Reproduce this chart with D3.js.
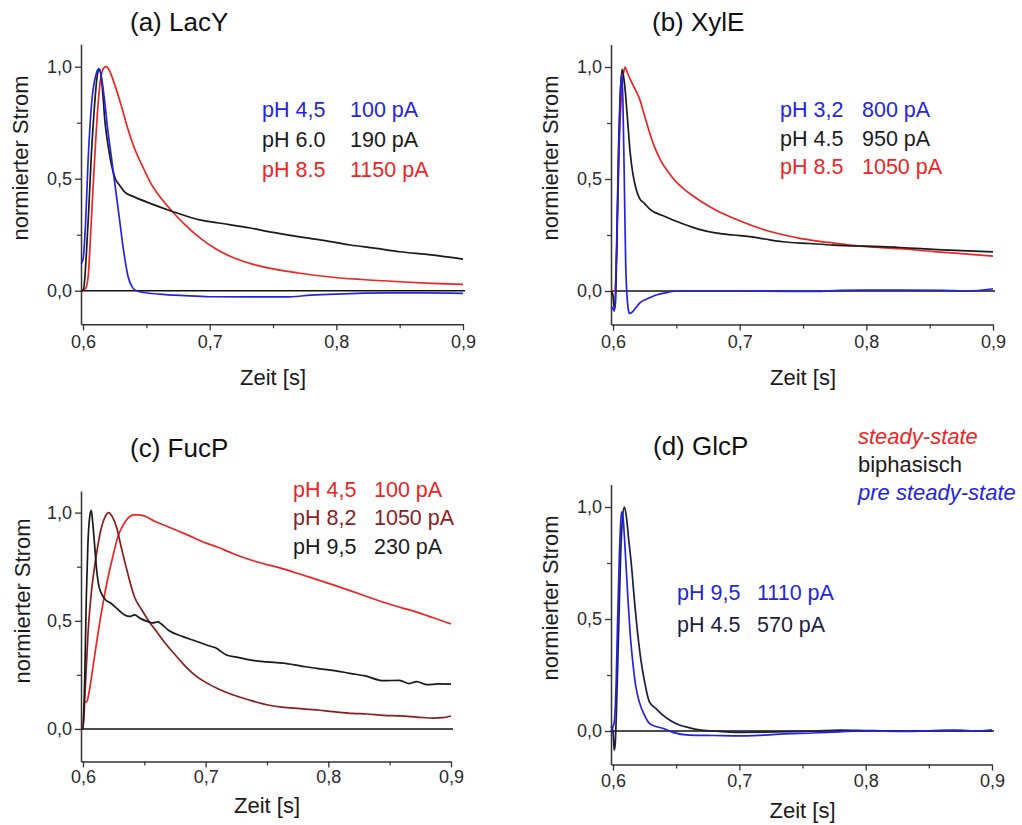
<!DOCTYPE html>
<html>
<head>
<meta charset="utf-8">
<script src="https://cdn.jsdelivr.net/npm/d3@7"></script>
<style>
  html, body { margin:0; padding:0; background:#fff; }
  svg text { font-family: "Liberation Sans", Arial, sans-serif; }
</style>
</head>
<body>
<svg id="chart" width="1022" height="825"></svg>
<script>
// ---------- DATA ----------
const panelTitles = ["(a) LacY", "(b) XylE", "(c) FucP", "(d) GlcP"];
const xTickValues = [0.6, 0.7, 0.8, 0.9];
const xTickLabels = ["0,6", "0,7", "0,8", "0,9"];
const xMinorTicks = [0.65, 0.75, 0.85];
const yTickValues = [0, 0.5, 1.0];
const yTickLabels = ["0,0", "0,5", "1,0"];
const yMinorTicks = [0.25, 0.75];
const xDomain = [0.5984, 0.9];
const yDomain = [-0.15, 1.1];
const xAxisTitle = "Zeit [s]";
const yAxisTitle = "normierter Strom";
const categoryLabels = ["steady-state", "biphasisch", "pre steady-state"];

// (a) LacY  [time s, normalized current]
const lacY_pH45 = [[0.5985,0.12],[0.6,0.14],[0.602,0.3],[0.604,0.58],[0.607,0.85],[0.6105,0.97],[0.6124,0.99],[0.614,0.97],[0.617,0.85],[0.6195,0.72],[0.6223,0.6],[0.626,0.44],[0.629,0.31],[0.632,0.18],[0.6357,0.06],[0.639,0.015],[0.642,0.0],[0.648,-0.008],[0.66,-0.015],[0.68,-0.022],[0.7,-0.027],[0.73,-0.028],[0.76,-0.028],[0.78,-0.02],[0.8,-0.015],[0.84,-0.01],[0.87,-0.01],[0.9,-0.012]];
const lacY_pH60 = [[0.5985,0.0],[0.6,0.0],[0.601,0.03],[0.6026,0.16],[0.6045,0.36],[0.6066,0.61],[0.609,0.82],[0.611,0.95],[0.6129,0.99],[0.615,0.92],[0.6173,0.755],[0.62,0.64],[0.6225,0.56],[0.6255,0.5],[0.629,0.47],[0.633,0.44],[0.64,0.42],[0.653,0.39],[0.67,0.355],[0.692,0.316],[0.71,0.3],[0.732,0.28],[0.75,0.26],[0.771,0.24],[0.79,0.225],[0.811,0.204],[0.83,0.19],[0.85,0.174],[0.875,0.16],[0.9,0.141]];
const lacY_pH85 = [[0.5985,0.0],[0.602,0.01],[0.604,0.06],[0.606,0.25],[0.608,0.47],[0.61,0.67],[0.612,0.84],[0.614,0.95],[0.6165,0.995],[0.6185,1.0],[0.621,0.98],[0.625,0.92],[0.63,0.83],[0.635,0.73],[0.64,0.645],[0.647,0.555],[0.653,0.485],[0.662,0.41],[0.671,0.35],[0.68,0.297],[0.692,0.237],[0.705,0.186],[0.718,0.149],[0.73,0.125],[0.745,0.103],[0.77,0.079],[0.797,0.06],[0.82,0.05],[0.85,0.04],[0.875,0.033],[0.9,0.028]];

// (b) XylE
const xylE_pH32 = [[0.5985,-0.07],[0.6,-0.08],[0.601,-0.09],[0.6015,-0.06],[0.602,0.0],[0.603,0.25],[0.6045,0.61],[0.6058,0.88],[0.6069,0.97],[0.6078,0.85],[0.609,0.46],[0.61,0.12],[0.6108,0.0],[0.612,-0.08],[0.6129,-0.1],[0.615,-0.095],[0.618,-0.075],[0.6208,-0.055],[0.627,-0.035],[0.634,-0.018],[0.642,-0.007],[0.651,0.0],[0.7,0.0],[0.74,-0.002],[0.76,-0.002],[0.78,0.003],[0.8,0.004],[0.83,0.004],[0.86,0.003],[0.88,0.0],[0.9,0.01]];
const xylE_pH45 = [[0.5985,0.0],[0.6,-0.02],[0.601,-0.08],[0.6018,-0.06],[0.603,0.2],[0.604,0.55],[0.6055,0.85],[0.6071,0.99],[0.609,0.93],[0.6116,0.755],[0.6135,0.62],[0.6155,0.53],[0.618,0.46],[0.6208,0.415],[0.625,0.39],[0.629,0.365],[0.64,0.335],[0.655,0.3],[0.668,0.275],[0.682,0.258],[0.695,0.25],[0.708,0.243],[0.72,0.232],[0.734,0.22],[0.755,0.212],[0.774,0.205],[0.8,0.2],[0.813,0.198],[0.833,0.192],[0.853,0.186],[0.875,0.18],[0.9,0.175]];
const xylE_pH85 = [[0.5985,0.0],[0.6015,0.0],[0.603,0.2],[0.605,0.67],[0.607,0.9],[0.6085,0.98],[0.6095,1.0],[0.611,0.98],[0.614,0.94],[0.6175,0.9],[0.6208,0.86],[0.625,0.78],[0.6287,0.71],[0.633,0.64],[0.6379,0.58],[0.644,0.528],[0.6497,0.488],[0.656,0.455],[0.663,0.425],[0.6687,0.403],[0.681,0.362],[0.6947,0.326],[0.708,0.296],[0.7213,0.27],[0.735,0.25],[0.7476,0.235],[0.76,0.224],[0.774,0.214],[0.787,0.205],[0.8,0.198],[0.8265,0.189],[0.853,0.176],[0.875,0.167],[0.9,0.156]];

// (c) FucP
const fucP_pH45 = [[0.5985,0.0],[0.6,0.01],[0.6008,0.1],[0.6014,0.125],[0.603,0.125],[0.605,0.17],[0.608,0.28],[0.6122,0.44],[0.616,0.57],[0.6204,0.7],[0.6245,0.8],[0.6285,0.89],[0.6325,0.94],[0.6367,0.975],[0.641,0.99],[0.6448,0.99],[0.65,0.985],[0.6584,0.96],[0.6693,0.935],[0.6856,0.896],[0.7,0.86],[0.71,0.84],[0.7225,0.81],[0.74,0.775],[0.7633,0.74],[0.78,0.71],[0.804,0.666],[0.825,0.625],[0.8448,0.586],[0.86,0.56],[0.872,0.54],[0.885,0.515],[0.9,0.485]];
const fucP_pH82 = [[0.5985,0.0],[0.6,0.0],[0.602,0.2],[0.6041,0.44],[0.607,0.64],[0.61,0.77],[0.6122,0.85],[0.615,0.93],[0.618,0.98],[0.621,1.0],[0.624,0.98],[0.6275,0.93],[0.6312,0.84],[0.636,0.73],[0.642,0.61],[0.648,0.55],[0.654,0.496],[0.66,0.45],[0.6666,0.4],[0.674,0.35],[0.6818,0.3],[0.69,0.255],[0.7008,0.213],[0.71,0.186],[0.7225,0.157],[0.735,0.135],[0.7497,0.112],[0.762,0.101],[0.777,0.094],[0.79,0.088],[0.804,0.08],[0.82,0.072],[0.8313,0.069],[0.845,0.063],[0.8584,0.06],[0.872,0.055],[0.8856,0.05],[0.893,0.052],[0.9,0.06]];
const fucP_pH95 = [[0.5985,0.0],[0.6,0.0],[0.6015,0.25],[0.6027,0.6],[0.604,0.85],[0.6055,0.98],[0.6068,1.01],[0.608,0.95],[0.6095,0.85],[0.6109,0.75],[0.613,0.66],[0.615,0.627],[0.618,0.6],[0.623,0.58],[0.628,0.555],[0.634,0.527],[0.638,0.52],[0.642,0.527],[0.647,0.51],[0.653,0.496],[0.657,0.49],[0.661,0.495],[0.6628,0.49],[0.67,0.455],[0.6815,0.427],[0.69,0.41],[0.7008,0.388],[0.708,0.375],[0.717,0.342],[0.727,0.33],[0.736,0.319],[0.75,0.31],[0.7633,0.304],[0.777,0.292],[0.7905,0.28],[0.805,0.27],[0.8177,0.257],[0.83,0.245],[0.845,0.223],[0.858,0.225],[0.866,0.21],[0.872,0.219],[0.88,0.205],[0.89,0.208],[0.9,0.207]];

// (d) GlcP
const glcP_pH95 = [[0.5985,0.0],[0.6,0.02],[0.601,0.04],[0.6024,0.2],[0.6035,0.46],[0.605,0.78],[0.6063,0.95],[0.6071,0.98],[0.608,0.95],[0.6095,0.82],[0.6116,0.61],[0.6135,0.44],[0.6156,0.31],[0.618,0.2],[0.6208,0.13],[0.625,0.07],[0.6288,0.034],[0.634,0.02],[0.6394,0.012],[0.6473,-0.006],[0.6604,-0.018],[0.68,-0.02],[0.7005,-0.022],[0.72,-0.018],[0.74,-0.012],[0.7533,-0.01],[0.77,-0.006],[0.8,0.0],[0.83,-0.002],[0.87,0.004],[0.89,0.0],[0.9,0.005]];
const glcP_pH45 = [[0.5985,0.02],[0.6,0.0],[0.6005,-0.05],[0.601,-0.085],[0.6017,-0.06],[0.6025,0.05],[0.6035,0.25],[0.6045,0.46],[0.606,0.78],[0.6075,0.95],[0.609,1.0],[0.6105,0.96],[0.6125,0.85],[0.6143,0.756],[0.617,0.58],[0.6196,0.43],[0.622,0.32],[0.625,0.22],[0.6288,0.13],[0.634,0.1],[0.6394,0.071],[0.646,0.045],[0.6525,0.027],[0.66,0.015],[0.6683,0.005],[0.68,0.0],[0.7,-0.006],[0.72,-0.005],[0.74,-0.003],[0.76,0.0],[0.78,0.004],[0.8,0.002],[0.83,0.0],[0.86,0.002],[0.9,0.0]];

// legend texts
const legendPH = [["pH 4,5","pH 6.0","pH 8.5"],["pH 3,2","pH 4.5","pH 8.5"],["pH 4,5","pH 8,2","pH 9,5"],["pH 9,5","pH 4.5"]];
const legendCurrent = [["100 pA","190 pA","1150 pA"],["800 pA","950 pA","1050 pA"],["100 pA","1050 pA","230 pA"],["1110 pA","570 pA"]];

// ---------- STYLE / LAYOUT ----------
const C = { red:"#ee2424", blue:"#2424e0", black:"#1a1a1a", darkred:"#8a1e1e", navy:"#1c1c44" };
const seriesData = [
  [lacY_pH45, lacY_pH60, lacY_pH85],
  [xylE_pH32, xylE_pH45, xylE_pH85],
  [fucP_pH45, fucP_pH82, fucP_pH95],
  [glcP_pH95, glcP_pH45]
];
const seriesColors = [
  [C.blue, C.black, C.red],
  [C.blue, C.black, C.red],
  [C.red, C.darkred, C.black],
  [C.blue, C.navy]
];
const drawOrder = [[2,1,0],[2,1,0],[0,1,2],[1,0]];
const categoryColors = [C.red, C.black, C.blue];

const layout = [
  {l:81,  r:463, t:44.3,  b:324.3, titleX:130, titleY:31,  yTitleX:28,  yTitleY:158, xTitleY:385, lx1:262, lx2:350, ly:117, ldy:30, tickPad:5},
  {l:611, r:993, t:44.6,  b:324.6, titleX:652, titleY:31,  yTitleX:558, yTitleY:158, xTitleY:385, lx1:780, lx2:862, ly:117, ldy:28.5, tickPad:5},
  {l:81,  r:451, t:491,   b:761.4, titleX:130, titleY:457, yTitleX:30,  yTitleY:601, xTitleY:813, lx1:293, lx2:374, ly:497, ldy:28.3, tickPad:3},
  {l:611, r:992, t:484.6, b:764.6, titleX:653, titleY:455, yTitleX:558, yTitleY:598, xTitleY:818, lx1:677, lx2:757, ly:600, ldy:31.7, tickPad:4}
];

const svg = d3.select("#chart");
const axisColor = "#333";

layout.forEach((L, i) => {
  const x = d3.scaleLinear().domain(xDomain).range([L.l, L.r]);
  const y = d3.scaleLinear().domain(yDomain).range([L.b, L.t]);
  const g = svg.append("g");

  g.append("g").attr("transform", `translate(0,${L.b})`)
    .call(d3.axisBottom(x).tickValues(xMinorTicks).tickSize(4).tickFormat(""))
    .call(s => s.select(".domain").remove())
    .call(s => s.selectAll("line").attr("stroke", axisColor).attr("stroke-width", 1.2));
  g.append("g").attr("transform", `translate(${L.l},0)`)
    .call(d3.axisLeft(y).tickValues(yMinorTicks).tickSize(4).tickFormat(""))
    .call(s => s.select(".domain").remove())
    .call(s => s.selectAll("line").attr("stroke", axisColor).attr("stroke-width", 1.2));

  const xa = g.append("g").attr("transform", `translate(0,${L.b})`)
    .call(d3.axisBottom(x).tickValues(xTickValues).tickSize(6).tickSizeOuter(0).tickPadding(L.tickPad)
      .tickFormat((d, k) => xTickLabels[k]));
  const ya = g.append("g").attr("transform", `translate(${L.l},0)`)
    .call(d3.axisLeft(y).tickValues(yTickValues).tickSize(6).tickSizeOuter(0).tickPadding(3)
      .tickFormat((d, k) => yTickLabels[k]));
  [xa, ya].forEach(a => {
    a.select(".domain").attr("stroke", axisColor).attr("stroke-width", 1.5);
    a.selectAll(".tick line").attr("stroke", axisColor).attr("stroke-width", 1.3);
    a.selectAll(".tick text").attr("font-size", 18).attr("fill", "#2a2a2a")
      .attr("font-family", '"Liberation Sans", Arial, sans-serif');
  });

  g.append("line")
    .attr("x1", L.l).attr("x2", x(0.9) + 2)
    .attr("y1", y(0)).attr("y2", y(0))
    .attr("stroke", "#111").attr("stroke-width", 1.4);

  const line = d3.line().x(d => x(d[0])).y(d => y(d[1])).curve(d3.curveMonotoneX);
  drawOrder[i].forEach(k => {
    g.append("path")
      .datum(seriesData[i][k])
      .attr("d", line)
      .attr("fill", "none")
      .attr("stroke", seriesColors[i][k])
      .attr("stroke-width", 1.7)
      .attr("stroke-linejoin", "round");
  });

  g.append("text").attr("x", L.titleX).attr("y", L.titleY)
    .attr("font-size", 26).attr("fill", "#111").text(panelTitles[i]);
  g.append("text").attr("x", (L.l + L.r) / 2 + 1).attr("y", L.xTitleY)
    .attr("text-anchor", "middle").attr("font-size", 22).attr("fill", "#1a1a1a").text(xAxisTitle);
  g.append("text")
    .attr("transform", `translate(${L.yTitleX},${L.yTitleY}) rotate(-90)`)
    .attr("text-anchor", "middle").attr("font-size", 22).attr("fill", "#1a1a1a").text(yAxisTitle);

  legendPH[i].forEach((t, k) => {
    const col = seriesColors[i][k];
    g.append("text").attr("x", L.lx1).attr("y", L.ly + k * L.ldy)
      .attr("font-size", 21.5).attr("fill", col).text(t);
    g.append("text").attr("x", L.lx2).attr("y", L.ly + k * L.ldy)
      .attr("font-size", 21.5).attr("fill", col).text(legendCurrent[i][k]);
  });
});

categoryLabels.forEach((t, k) => {
  svg.append("text").attr("x", 858).attr("y", 444 + k * 28)
    .attr("font-size", 22)
    .attr("font-style", k === 1 ? "normal" : "italic")
    .attr("fill", categoryColors[k]).text(t);
});
</script>
</body>
</html>
